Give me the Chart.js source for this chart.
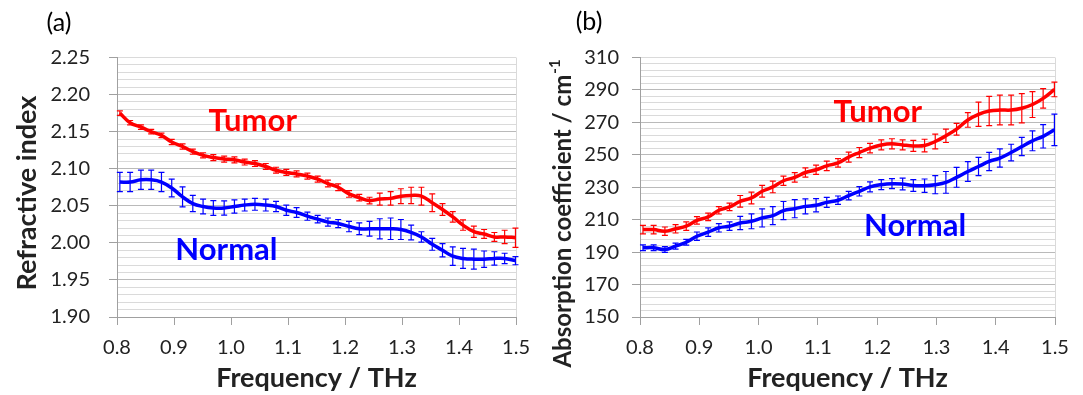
<!DOCTYPE html>
<html>
<head>
<meta charset="utf-8">
<script src="https://cdn.jsdelivr.net/npm/chart.js@4.4.1/dist/chart.umd.min.js"></script>
<style>
  body { margin: 0; background: #fff; }
  canvas { position: absolute; top: 0; }
  #chartA { left: 0; }
  #chartB { left: 541px; }
</style>
</head>
<body>
<canvas id="chartA" width="541" height="395"></canvas>
<canvas id="chartB" width="542" height="395"></canvas>
<script>
// frequency of each measured point (THz)
const freq = [0.805, 0.823, 0.842, 0.860, 0.878, 0.896, 0.915, 0.933, 0.951, 0.969,
  0.988, 1.006, 1.024, 1.042, 1.061, 1.079, 1.097, 1.115, 1.134, 1.152,
  1.170, 1.188, 1.207, 1.225, 1.243, 1.261, 1.280, 1.298, 1.316, 1.334,
  1.353, 1.371, 1.389, 1.407, 1.426, 1.444, 1.462, 1.480, 1.499];

// (a) refractive index
const tumorIndex = [2.175, 2.162, 2.156, 2.150, 2.145, 2.136, 2.130, 2.123, 2.118, 2.115,
  2.113, 2.112, 2.109, 2.107, 2.103, 2.098, 2.095, 2.093, 2.090, 2.086,
  2.080, 2.075, 2.066, 2.061, 2.057, 2.059, 2.060, 2.063, 2.064, 2.063,
  2.054, 2.045, 2.035, 2.024, 2.015, 2.012, 2.008, 2.008, 2.007];
const tumorIndexErr = [0.003, 0.003, 0.003, 0.003, 0.003, 0.0035, 0.0035, 0.0035, 0.0035, 0.004,
  0.004, 0.004, 0.004, 0.004, 0.004, 0.004, 0.004, 0.004, 0.004, 0.004,
  0.0045, 0.0045, 0.0045, 0.0045, 0.0045, 0.008, 0.009, 0.010, 0.011, 0.012,
  0.012, 0.008, 0.007, 0.007, 0.0075, 0.006, 0.006, 0.009, 0.013];
const normalIndex = [2.082, 2.082, 2.085, 2.085, 2.082, 2.074, 2.062, 2.053, 2.049, 2.047,
  2.047, 2.049, 2.051, 2.052, 2.051, 2.049, 2.044, 2.041, 2.036, 2.032,
  2.028, 2.026, 2.022, 2.019, 2.019, 2.019, 2.019, 2.018, 2.014, 2.008,
  1.998, 1.990, 1.982, 1.979, 1.978, 1.978, 1.979, 1.979, 1.976];
const normalIndexErr = [0.013, 0.013, 0.013, 0.013, 0.013, 0.012, 0.0135, 0.011, 0.010, 0.010,
  0.0095, 0.009, 0.008, 0.008, 0.008, 0.007, 0.007, 0.0065, 0.0055, 0.005,
  0.0055, 0.0055, 0.007, 0.008, 0.010, 0.0135, 0.0145, 0.0135, 0.010, 0.007,
  0.008, 0.009, 0.0125, 0.0135, 0.0135, 0.011, 0.009, 0.007, 0.0055];

// (b) absorption coefficient (cm-1)
const tumorAbs = [203.9, 203.9, 202.9, 204.4, 206.0, 209.6, 211.7, 215.8, 217.9, 221.3,
  223.4, 227.5, 230.2, 234.0, 236.1, 239.1, 240.8, 243.2, 245.0, 248.6,
  251.4, 254.1, 256.1, 256.8, 256.1, 255.5, 255.7, 258.2, 261.7, 265.8,
  271.5, 275.0, 277.0, 277.6, 277.6, 278.7, 281.0, 284.8, 290.3];
const tumorAbsErr = [2.6, 2.6, 2.6, 2.6, 2.6, 2.3, 2.3, 2.3, 2.3, 3.6,
  3.6, 3.6, 3.6, 2.9, 2.9, 2.9, 2.9, 2.9, 2.6, 3.1,
  3.1, 2.9, 3.1, 3.1, 3.1, 3.4, 3.9, 4.6, 4.1, 3.6,
  4.5, 7.5, 9.0, 9.2, 9.2, 9.0, 8.0, 6.0, 4.5];
const normalAbs = [192.7, 192.7, 191.6, 193.7, 196.1, 199.8, 202.3, 205.0, 206.0, 208.0,
  209.0, 211.1, 212.5, 215.6, 216.8, 218.2, 218.9, 220.7, 222.0, 224.8,
  227.5, 230.2, 231.6, 232.2, 232.0, 231.1, 231.0, 231.6, 233.0, 236.1,
  239.7, 242.8, 245.9, 248.0, 251.4, 255.1, 258.6, 261.4, 265.4];
const normalAbsErr = [1.8, 1.8, 1.8, 1.8, 1.8, 2.6, 2.6, 2.6, 2.6, 4.1,
  4.6, 5.6, 5.6, 5.6, 5.6, 4.6, 4.1, 3.1, 2.6, 2.6,
  2.9, 3.1, 3.1, 3.1, 3.6, 3.6, 4.1, 5.6, 6.7, 6.1,
  6.1, 5.6, 5.6, 5.6, 5.1, 5.6, 6.1, 7.2, 9.7];

const red = '#ff0000';
const blue = '#0000ff';
const axisColor = '#a0a0a0';
const majorGrid = '#bababa';
const minorGrid = '#dadada';
const textColor = '#222222';

Chart.defaults.font.family = 'Lato, "Open Sans", sans-serif';

// draws the +/- error bar at every point
const errorBars = {
  id: 'errorBars',
  afterDatasetsDraw(chart) {
    const {ctx, scales: {x, y}} = chart;
    chart.data.datasets.forEach(ds => {
      ctx.save();
      ctx.strokeStyle = ds.borderColor;
      ctx.lineWidth = 1.2;
      ds.data.forEach((p, i) => {
        const e = ds.errors[i];
        const px = x.getPixelForValue(p.x);
        const top = y.getPixelForValue(p.y + e);
        const bot = y.getPixelForValue(p.y - e);
        ctx.beginPath();
        ctx.moveTo(px, top); ctx.lineTo(px, bot);
        ctx.moveTo(px - 3, top); ctx.lineTo(px + 3, top);
        ctx.moveTo(px - 3, bot); ctx.lineTo(px + 3, bot);
        ctx.stroke();
      });
      ctx.restore();
    });
  }
};

// panel letter, axis titles and the Tumor / Normal labels
const panelText = {
  id: 'panelText',
  afterDraw(chart, args, opts) {
    const {ctx, chartArea, scales: {x, y}} = chart;
    ctx.save();
    ctx.textAlign = 'center';
    ctx.textBaseline = 'middle';

    ctx.fillStyle = '#000';
    ctx.font = '25px Lato';
    ctx.fillText(opts.letter, opts.letterPos[0], opts.letterPos[1]);

    ctx.fillStyle = textColor;
    ctx.font = 'bold 27px Lato';
    ctx.fillText('Frequency / THz', (chartArea.left + chartArea.right) / 2, 378);

    // rotated y title, with optional superscript
    const tFont = 'bold ' + opts.yTitleSize + 'px Lato';
    const sFont = 'bold ' + Math.round(opts.yTitleSize * 0.62) + 'px Lato';
    ctx.save();
    ctx.translate(opts.yTitlePos[0], opts.yTitlePos[1]);
    ctx.rotate(-Math.PI / 2);
    ctx.textAlign = 'left';
    ctx.font = tFont;
    const w1 = ctx.measureText(opts.yTitle).width;
    let w2 = 0;
    if (opts.ySup) {
      ctx.font = sFont;
      w2 = ctx.measureText(opts.ySup).width;
    }
    ctx.font = tFont;
    ctx.fillText(opts.yTitle, -(w1 + w2) / 2, 0);
    if (opts.ySup) {
      ctx.font = sFont;
      ctx.fillText(opts.ySup, -(w1 + w2) / 2 + w1 + 1, -8);
    }
    ctx.restore();

    ctx.font = 'bold 31px Lato';
    opts.labels.forEach(l => {
      ctx.fillStyle = l.color;
      ctx.fillText(l.text, x.getPixelForValue(l.at[0]), y.getPixelForValue(l.at[1]));
    });
    ctx.restore();
  }
};

function yScale(min, max, step, digits, width, pad) {
  return {
    type: 'linear', min: min, max: max,
    afterFit: s => { s.width = width; },
    border: {color: axisColor},
    grid: {
      color: c => (c.index % 5 === 0 && c.index !== c.scale.ticks.length - 1) ? majorGrid : minorGrid,
      tickColor: c => c.index % 5 === 0 ? axisColor : 'rgba(0,0,0,0)',
      tickLength: 8
    },
    ticks: {
      stepSize: step, autoSkip: false, padding: pad, color: textColor, font: {size: 20},
      callback: (v, i) => i % 5 === 0 ? v.toFixed(digits) : ''
    }
  };
}

function xScale() {
  return {
    type: 'linear', min: 0.8, max: 1.5,
    afterFit: s => { s.height = 78; },
    border: {color: axisColor},
    grid: {
      color: c => c.index === c.scale.ticks.length - 1 ? minorGrid : 'rgba(0,0,0,0)',
      tickColor: axisColor,
      tickLength: 8
    },
    ticks: {
      stepSize: 0.1, autoSkip: false, maxRotation: 0, padding: 11, color: textColor, font: {size: 20},
      callback: v => v.toFixed(1)
    }
  };
}

function series(label, values, errors, color) {
  return {
    label: label,
    data: freq.map((f, i) => ({x: f, y: values[i]})),
    errors: errors,
    borderColor: color,
    borderWidth: 3.5,
    pointRadius: 0,
    tension: 0.4,
    fill: false
  };
}

function drawCharts() {
  new Chart('chartA', {
    type: 'line',
    data: {
      datasets: [
        series('Tumor', tumorIndex, tumorIndexErr, red),
        series('Normal', normalIndex, normalIndexErr, blue)
      ]
    },
    options: {
      responsive: false,
      animation: false,
      layout: {padding: {top: 57.5, right: 24.5, bottom: 0, left: 0}},
      scales: {x: xScale(), y: yScale(1.90, 2.25, 0.01, 2, 117, 19)},
      plugins: {
        legend: {display: false},
        tooltip: {enabled: false},
        panelText: {
          letter: '(a)', letterPos: [59, 23],
          yTitle: 'Refractive index', ySup: '', yTitleSize: 27, yTitlePos: [27, 193],
          labels: [
            {text: 'Tumor', color: red, at: [1.038, 2.164]},
            {text: 'Normal', color: blue, at: [0.992, 1.991]}
          ]
        }
      }
    },
    plugins: [errorBars, panelText]
  });

  new Chart('chartB', {
    type: 'line',
    data: {
      datasets: [
        series('Tumor', tumorAbs, tumorAbsErr, red),
        series('Normal', normalAbs, normalAbsErr, blue)
      ]
    },
    options: {
      responsive: false,
      animation: false,
      layout: {padding: {top: 57.5, right: 28, bottom: 0, left: 0}},
      scales: {x: xScale(), y: yScale(150, 310, 4, 0, 99, 13)},
      plugins: {
        legend: {display: false},
        tooltip: {enabled: false},
        panelText: {
          letter: '(b)', letterPos: [48, 22],
          yTitle: 'Absorption coefficient / cm', ySup: '-1', yTitleSize: 24, yTitlePos: [22, 214],
          labels: [
            {text: 'Tumor', color: red, at: [1.201, 276.1]},
            {text: 'Normal', color: blue, at: [1.264, 205.8]}
          ]
        }
      }
    },
    plugins: [errorBars, panelText]
  });
}

Promise.all([document.fonts.load('20px Lato'), document.fonts.load('bold 25px Lato')])
  .catch(() => null)
  .then(drawCharts);
</script>
</body>
</html>
